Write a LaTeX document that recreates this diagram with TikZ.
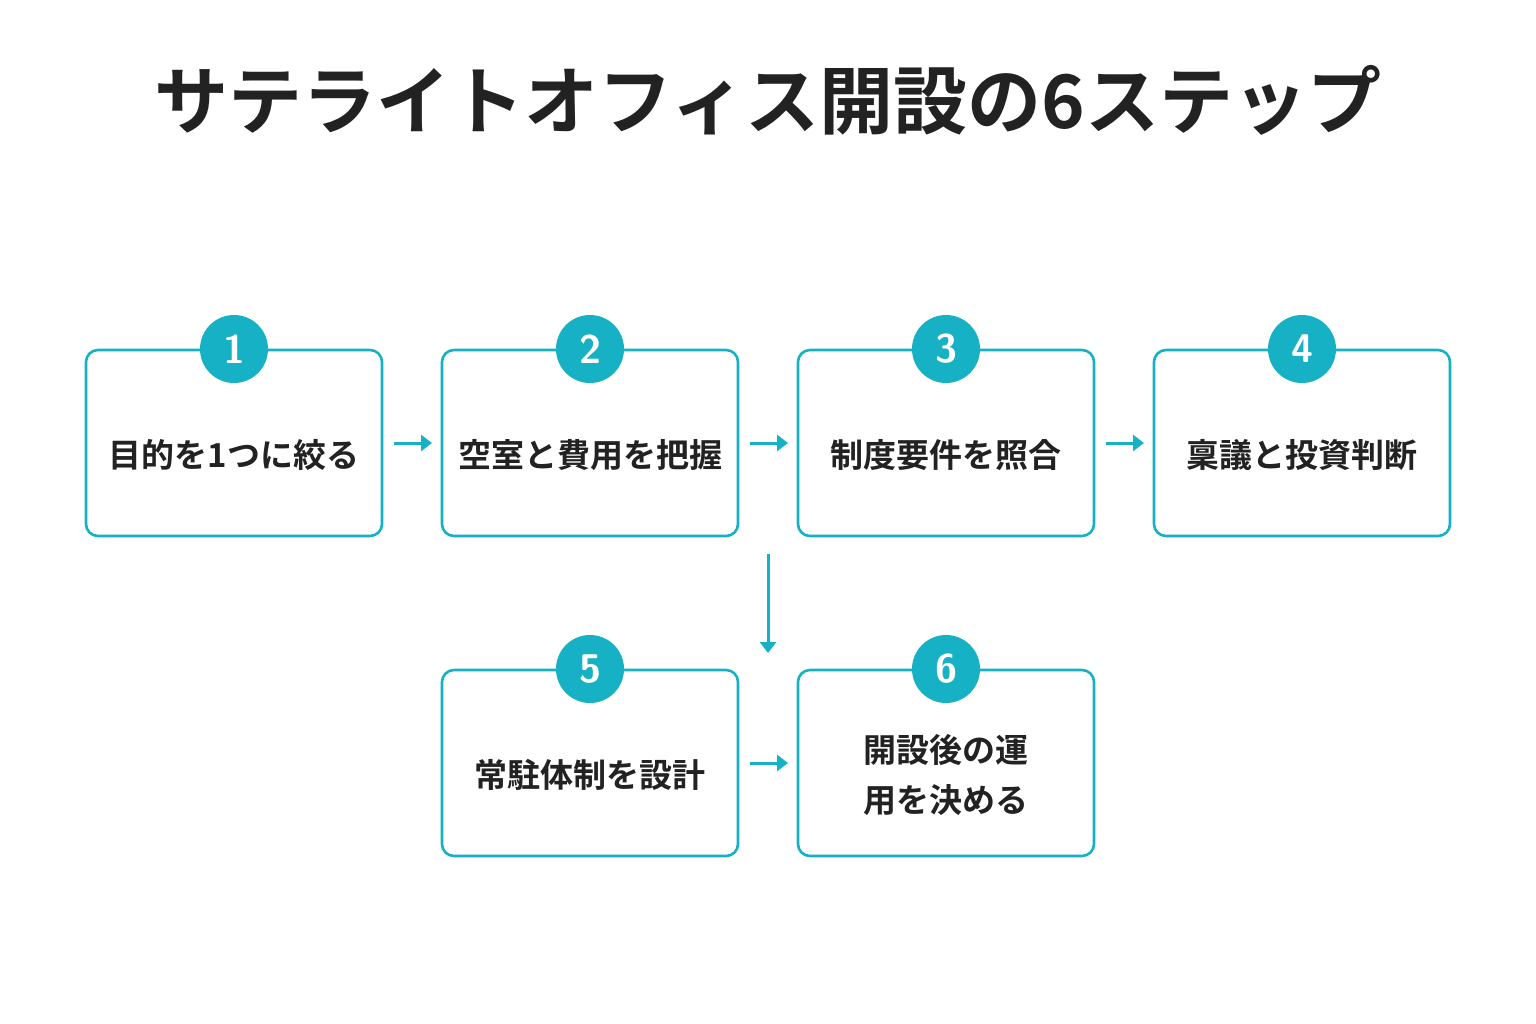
\documentclass[tikz,border=0pt]{standalone}
\usepackage{fontspec}
\newfontfamily\cjk{Noto Sans CJK JP Bold}
\usetikzlibrary{arrows.meta}
\definecolor{teal}{HTML}{16B1C4}
\definecolor{ink}{HTML}{222222}
\begin{document}
\begin{tikzpicture}[x=1pt,y=-1pt,
 box/.style={draw=teal,line width=2.6pt,rounded corners=12pt,minimum width=296pt,minimum height=186pt,fill=white},
 lbl/.style={font=\cjk\fontsize{33}{50}\selectfont,text=ink,align=center},
 num/.style={circle,fill=teal,minimum size=68pt,inner sep=0pt,text=white,font=\sffamily\bfseries\fontsize{40}{40}\selectfont},
 arr/.style={draw=teal,line width=3pt,-{Triangle[length=11pt,width=16pt]}}]
\useasboundingbox (0,0) rectangle (1536,1024);
\fill[white] (0,0) rectangle (1536,1024);
\node[font=\cjk\fontsize{74}{80}\selectfont,text=ink] (title) at (768,100) {サテライトオフィス開設の6ステップ};
\foreach \n/\x/\y/\t in {1/234/443/目的を1つに絞る,2/590/443/空室と費用を把握,3/946/443/制度要件を照合,4/1302/443/稟議と投資判断,5/590/763/常駐体制を設計,6/946/763/{開設後の運\\用を決める}}{
 \node[box] (b\n) at (\x,\y) {};
 \node[lbl] (t\n) at (\x,\y+12) {\t};
 \node[num] (c\n) at (\x,\y-94) {\n};
}
\coordinate (a1s) at (394,443); \coordinate (a1e) at (432,443);
\coordinate (a2s) at (750,443); \coordinate (a2e) at (788,443);
\coordinate (a3s) at (1106,443); \coordinate (a3e) at (1144,443);
\coordinate (a5s) at (750,763); \coordinate (a5e) at (788,763);
\coordinate (ds) at (768,554); \coordinate (de) at (768,653);
\draw[arr] (a1s) -- (a1e);
\draw[arr] (a2s) -- (a2e);
\draw[arr] (a3s) -- (a3e);
\draw[arr] (a5s) -- (a5e);
\draw[arr] (ds) -- (de);
\end{tikzpicture}
\end{document}
